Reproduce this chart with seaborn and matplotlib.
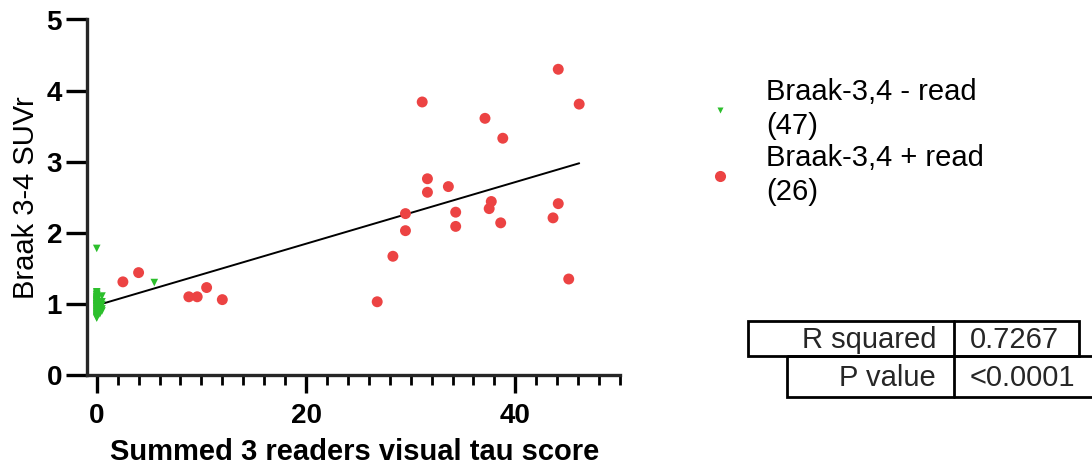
import numpy as np
import pandas as pd
import matplotlib
matplotlib.use('Agg')
import matplotlib.pyplot as plt
from matplotlib.lines import Line2D
from matplotlib.patches import Rectangle
import seaborn as sns

# data
neg_x = [0.0] * 38 + [0.5, 0.5, 0.5, 0.3, 0.5, 0.3, 0.5] + [0.0, 5.5]
neg_y = [1.17, 1.15, 1.13, 1.12, 1.10, 1.09, 1.08, 1.07, 1.06, 1.05,
         1.05, 1.04, 1.03, 1.02, 1.01, 1.00, 1.00, 0.99, 0.98, 0.97,
         0.97, 0.96, 0.95, 0.94, 0.93, 0.92, 0.91, 0.90, 0.89, 0.88,
         0.87, 0.86, 0.85, 0.84, 0.83, 0.82, 0.81, 0.80,
         1.11, 1.03, 0.99, 0.95, 0.90, 0.86, 0.93,
         1.78, 1.30]
pos_x = [44.1, 46.1, 31.1, 37.1, 38.8, 31.6, 33.6, 31.6, 37.7, 37.5,
         44.1, 34.3, 29.5, 43.6, 38.6, 34.3, 29.5, 28.3, 45.1, 26.8,
         10.5, 8.8, 9.6, 12.0, 2.5, 4.0]
pos_y = [4.30, 3.81, 3.84, 3.61, 3.33, 2.76, 2.65, 2.57, 2.44, 2.34,
         2.41, 2.29, 2.27, 2.21, 2.14, 2.09, 2.03, 1.67, 1.35, 1.03,
         1.23, 1.10, 1.10, 1.06, 1.31, 1.44]
labels = ['Braak-3,4 - read\n(47)', 'Braak-3,4 + read\n(26)']
stats_names = ['R squared', 'P value']
stats_values = ['0.7267', '<0.0001']

green = '#2cbf2c'
red = '#ec4343'

neg = pd.DataFrame({'x': neg_x, 'y': neg_y})
pos = pd.DataFrame({'x': pos_x, 'y': pos_y})
both = pd.concat([neg, pos], ignore_index=True)

sns.set_style('ticks')
plt.rcParams['font.family'] = ['Liberation Sans', 'DejaVu Sans']

W, H = 1092, 469
fig = plt.figure(figsize=(W / 100, H / 100), dpi=100)
ax = fig.add_axes([87 / W, 94 / H, 533 / W, 355.5 / H])

sns.regplot(data=both, x='x', y='y', scatter=False, ci=None, truncate=True,
            color='black', line_kws={'linewidth': 1.4}, ax=ax)
sns.scatterplot(data=neg, x='x', y='y', marker='v', s=30, color=green,
                edgecolor='none', ax=ax, zorder=3)
sns.scatterplot(data=pos, x='x', y='y', marker='o', s=62, color=red,
                edgecolor='none', ax=ax, zorder=3)

ax.set_xlim(-0.93, 50)
ax.set_ylim(0, 5)
ax.set_xticks([0, 20, 40])
ax.set_xticks(np.arange(0, 51, 2), minor=True)
ax.set_yticks([0, 1, 2, 3, 4, 5])
sns.despine(ax=ax)
for s in ['left', 'bottom']:
    ax.spines[s].set_linewidth(2.4)
ax.tick_params(axis='both', which='major', width=2.4, labelsize=20,
               colors='black')
ax.tick_params(axis='y', which='major', length=15, pad=3)
ax.tick_params(axis='x', which='major', length=13, pad=7)
ax.tick_params(axis='x', which='minor', length=7, width=2.0, colors='black')
for lab in ax.get_xticklabels() + ax.get_yticklabels():
    lab.set_fontweight('bold')
ax.set_xlabel('Summed 3 readers visual tau score', fontsize=21,
              fontweight='bold', color='black')
ax.set_ylabel('Braak 3-4 SUVr', fontsize=21, color='black')
ax.yaxis.set_label_coords((26 - 87) / 533, 0.5)
ax.xaxis.set_label_coords((355 - 87) / 533, -(452 - 375) / 355.5)
ax.xaxis.label.set_va('center')
ax.yaxis.label.set_va('center')

handles = [Line2D([], [], linestyle='none', marker='v', markersize=5,
                  color=green, markeredgecolor='none'),
           Line2D([], [], linestyle='none', marker='o', markersize=8,
                  color=red, markeredgecolor='none')]
leg = fig.legend(handles, labels, loc='upper left',
                 bbox_to_anchor=(676 / W, 1 - 52 / H),
                 frameon=False, fontsize=21, handlelength=1.2,
                 handletextpad=1.0, labelspacing=0.15)
for t in leg.get_texts():
    t.set_linespacing(1.25)
    t.set_color('black')

# statistics table drawn in pixel coordinates
ov = fig.add_axes([0, 0, 1, 1])
ov.set_xlim(0, W)
ov.set_ylim(H, 0)
ov.axis('off')
rows = [(748, 1079, 321, 356), (787, 1096, 356, 397)]
for (x0, x1, y0, y1), name, val in zip(rows, stats_names, stats_values):
    ov.add_patch(Rectangle((x0, y0), x1 - x0, y1 - y0, fill=False,
                           linewidth=2, edgecolor='black', clip_on=False))
    ov.plot([954, 954], [y0, y1], color='black', linewidth=2)
    ov.text(936, (y0 + y1) / 2 + 1, name, ha='right', va='center', fontsize=21)
    ov.text(970, (y0 + y1) / 2 + 1, val, ha='left', va='center', fontsize=21)

fig.savefig('out.png', dpi=100, facecolor='white')
